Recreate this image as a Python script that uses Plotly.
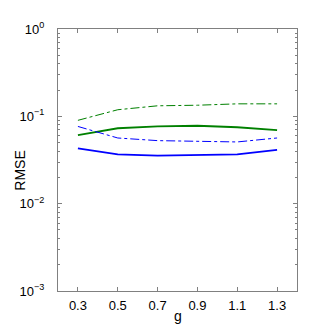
import plotly.graph_objects as go

# dados
g_values = [0.3, 0.5, 0.7, 0.9, 1.1, 1.3]
green_dashdot = [0.090, 0.119, 0.132, 0.134, 0.139, 0.139]
green_solid = [0.061, 0.073, 0.0766, 0.078, 0.075, 0.0695]
blue_dashdot = [0.0766, 0.0565, 0.0527, 0.0519, 0.0509, 0.0565]
blue_solid = [0.0429, 0.0366, 0.0354, 0.036, 0.0366, 0.0414]

y_tick_vals = [1e-3, 1e-2, 1e-1, 1]
y_tick_text = ["10<sup>−3</sup>", "10<sup>−2</sup>", "10<sup>−1</sup>", "10<sup>0</sup>"]
x_tick_vals = [0.3, 0.5, 0.7, 0.9, 1.1, 1.3]

GREEN = "#008000"
BLUE = "#0000ff"

fig = go.Figure()
fig.add_trace(go.Scatter(x=g_values, y=green_dashdot, mode="lines",
                         line=dict(color=GREEN, width=1, dash="dashdot")))
fig.add_trace(go.Scatter(x=g_values, y=green_solid, mode="lines",
                         line=dict(color=GREEN, width=1.8)))
fig.add_trace(go.Scatter(x=g_values, y=blue_dashdot, mode="lines",
                         line=dict(color=BLUE, width=1, dash="dashdot")))
fig.add_trace(go.Scatter(x=g_values, y=blue_solid, mode="lines",
                         line=dict(color=BLUE, width=1.8)))

minor_vals = [m * 10 ** e for e in (-3, -2, -1) for m in range(2, 10)]

axis_common = dict(
    showline=True, linecolor="#808080", linewidth=1, mirror="ticks",
    ticks="inside", ticklen=4, tickcolor="#808080",
    showgrid=False, zeroline=False,
    tickfont=dict(size=13, color="black"),
)

fig.update_xaxes(
    range=[0.2, 1.4], tickvals=x_tick_vals,
    ticktext=[f"{v:.1f}" for v in x_tick_vals],
    ticklabelstandoff=2,
    **axis_common,
)
fig.update_yaxes(
    type="log", range=[-3, 0], tickvals=y_tick_vals, ticktext=y_tick_text,
    minor=dict(tickvals=minor_vals, ticks="inside", ticklen=2, tickcolor="#808080", showgrid=False),
    ticklabelstandoff=10,
    **axis_common,
)

# titulos dos eixos como anotacoes para posicionamento preciso
fig.add_annotation(text="g", x=0.5, xref="paper", y=-0.097, yref="paper",
                   xanchor="center", yanchor="middle", showarrow=False,
                   font=dict(size=14, color="black"))
fig.add_annotation(text="RMSE", x=-0.158, xref="paper", y=0.46, yref="paper",
                   xanchor="center", yanchor="middle", showarrow=False, textangle=-90,
                   font=dict(size=14, color="black"))

# a pagina desloca a figura ~8px (margem do body), por isso 319x319
fig.update_layout(
    width=319, height=319,
    margin=dict(l=42, r=30, t=16, b=36),
    paper_bgcolor="white", plot_bgcolor="white",
    showlegend=False,
    font=dict(family="Liberation Sans, Arial, sans-serif", color="black"),
)

fig.write_html("out.html")
